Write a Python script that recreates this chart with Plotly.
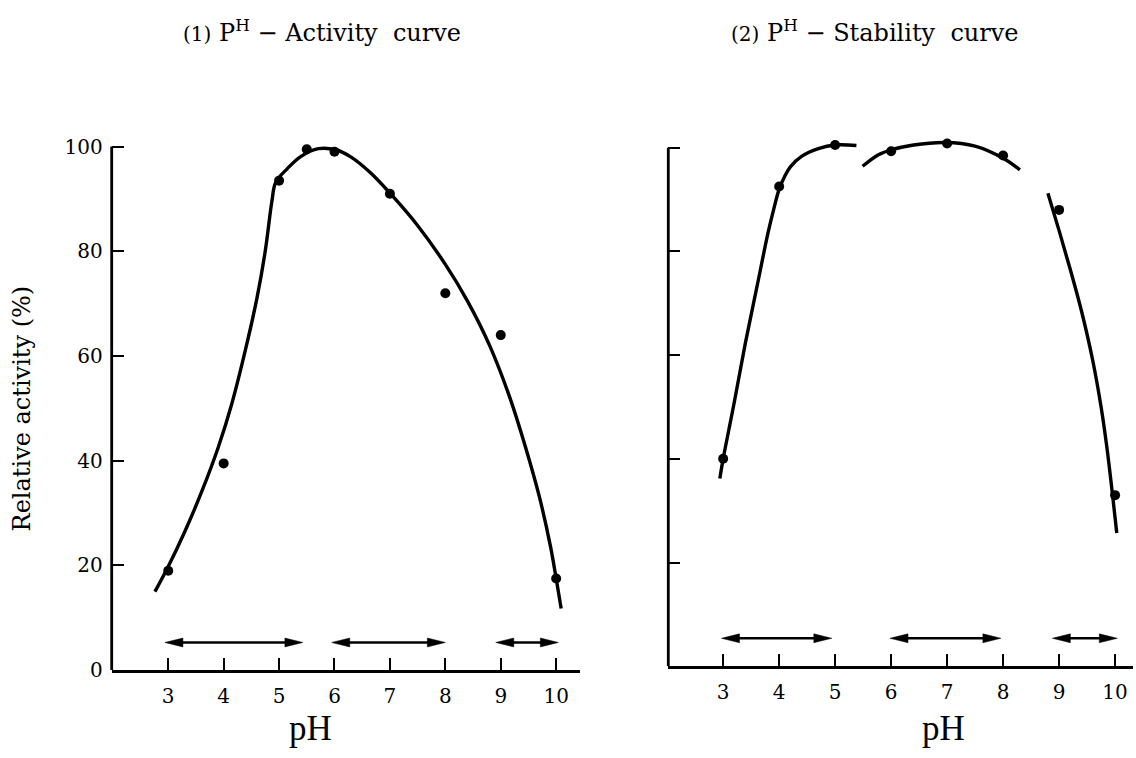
import plotly.graph_objects as go

# ---------------- data ----------------
# (1) pH - Activity curve: measured points
act_ph = [3, 4, 5, 5.5, 6, 7, 8, 9, 10]
act_val = [19, 39.5, 93.5, 99.5, 99, 91, 72, 64, 17.5]
# hand-drawn fitted curve (traced points)
act_curve_ph = [2.76, 3.0, 3.3, 3.6, 3.9, 4.15, 4.4, 4.6, 4.75, 4.87, 4.94, 5.15, 5.39,
                5.71, 6.02, 6.3, 6.65, 7.01, 7.51, 8.0, 8.4, 8.8, 9.15, 9.45, 9.7, 9.9,
                10.0, 10.09]
act_curve_val = [15, 19.8, 26.5, 34, 42.5, 51, 61.5, 71, 80, 89.5, 93.2, 95.8, 98.1,
                 99.6, 99.4, 98, 95, 91, 84.8, 77.5, 70.5, 62, 52.5, 42.5, 33, 23.5,
                 17.5, 11.8]

# (2) pH - Stability curve: measured points
stab_ph = [3, 4, 5, 6, 7, 8, 9, 10]
stab_val = [40, 92.5, 100.5, 99.3, 100.8, 98.5, 88, 33]
# three traced curve segments
stab_seg1_ph = [2.94, 3.0, 3.2, 3.4, 3.6, 3.8, 3.9, 4.0, 4.1, 4.2, 4.4, 4.7, 5.0, 5.38]
stab_seg1_val = [36.2, 40, 51, 62.5, 73, 83.5, 88, 92.0, 94.5, 96.3, 98.3, 99.8, 100.5, 100.4]
stab_seg2_ph = [5.49, 5.75, 5.95, 6.4, 6.96, 7.5, 8.01, 8.3]
stab_seg2_val = [96.4, 98.5, 99.4, 100.5, 101.0, 100.3, 97.9, 95.7]
stab_seg3_ph = [8.8, 9.0, 9.2, 9.4, 9.6, 9.75, 9.85, 9.95, 10.03]
stab_seg3_val = [91.2, 84, 76.5, 68.5, 59, 50, 42.5, 33.5, 25.7]

# double-headed range arrows (start pH, end pH) and their height
act_arrows = [(2.94, 5.43), (5.95, 8.0), (8.91, 10.04)]
act_arrow_y = 5.3
stab_arrows = [(2.97, 4.94), (5.98, 7.96), (8.88, 10.04)]
stab_arrow_y = 5.4

x_ticks = [3, 4, 5, 6, 7, 8, 9, 10]
y_ticks = [0, 20, 40, 60, 80, 100]

titles = ["<span style='font-size:20px'>(1)</span> P<sup>H</sup> − Activity  curve",
          "<span style='font-size:20px'>(2)</span> P<sup>H</sup> − Stability  curve"]
x_title = "pH"
y_title = "Relative activity (%)"

# ---------------- figure ----------------
W, H = 1136, 758
FONT = "DejaVu Serif"
fig = go.Figure()

line_style = dict(color="black", width=3.4, shape="spline", smoothing=1.0)
marker_style = dict(color="black", size=10)

fig.add_trace(go.Scatter(x=act_curve_ph, y=act_curve_val, mode="lines",
                         line=line_style, xaxis="x", yaxis="y", hoverinfo="skip"))
fig.add_trace(go.Scatter(x=act_ph, y=act_val, mode="markers",
                         marker=marker_style, xaxis="x", yaxis="y"))

for sx, sy in [(stab_seg1_ph, stab_seg1_val), (stab_seg2_ph, stab_seg2_val),
               (stab_seg3_ph, stab_seg3_val)]:
    fig.add_trace(go.Scatter(x=sx, y=sy, mode="lines", line=line_style,
                             xaxis="x2", yaxis="y2", hoverinfo="skip"))
fig.add_trace(go.Scatter(x=stab_ph, y=stab_val, mode="markers",
                         marker=marker_style, xaxis="x2", yaxis="y2"))

# double-headed arrows: shaft + two narrow filled heads (head size is a style setting)
HEAD_LEN_PX, HEAD_HALF_PX = 18, 4.5


def add_arrows(arrows, ay, xa, ya, px_per_x, px_per_y):
    hl = HEAD_LEN_PX / px_per_x
    hh = HEAD_HALF_PX / px_per_y
    for a, b in arrows:
        fig.add_trace(go.Scatter(x=[a + hl * 0.8, b - hl * 0.8], y=[ay, ay], mode="lines",
                                 line=dict(color="black", width=2.4),
                                 xaxis=xa, yaxis=ya, hoverinfo="skip"))
        for tip, base in ((a, a + hl), (b, b - hl)):
            fig.add_trace(go.Scatter(x=[tip, base, base, tip], y=[ay, ay + hh, ay - hh, ay],
                                     mode="lines", fill="toself", fillcolor="black",
                                     line=dict(color="black", width=0.5),
                                     xaxis=xa, yaxis=ya, hoverinfo="skip"))


add_arrows(act_arrows, act_arrow_y, "x", "y", 55.4, 5.32)
add_arrows(stab_arrows, stab_arrow_y, "x2", "y2", 56.0, 5.27)

annotations = []
# panel titles
for cx, t in ((322, titles[0]), (875, titles[1])):
    annotations.append(dict(x=cx / W, y=1 - 32 / H, xref="paper", yref="paper",
                            xanchor="center", yanchor="middle",
                            text=t, showarrow=False,
                            font=dict(family=FONT, size=24, color="black")))
# x titles
for cx in (310, 943):
    annotations.append(dict(x=cx / W, y=1 - 740 / H, xref="paper", yref="paper",
                            xanchor="center", yanchor="middle",
                            text=x_title, showarrow=False,
                            font=dict(family="Liberation Serif", size=35, color="black")))
# y title
annotations.append(dict(x=22 / W, y=1 - 415 / H, xref="paper", yref="paper",
                        xanchor="center", yanchor="middle",
                        text=y_title, showarrow=False, textangle=-90,
                        font=dict(family=FONT, size=24, color="black")))

axis_common = dict(showgrid=False, zeroline=False, linecolor="black",
                   linewidth=2.8, ticks="inside", ticklen=12, tickwidth=2,
                   tickcolor="black", tickfont=dict(family=FONT, size=20, color="black"))

# vertical axis lines ending at the 100 tick
shapes = [
    dict(type="line", xref="x domain", yref="y", x0=0, x1=0, y0=0, y1=100,
         line=dict(color="black", width=2.8)),
    dict(type="line", xref="x2 domain", yref="y2", x0=0, x1=0, y0=0, y1=100,
         line=dict(color="black", width=2.8)),
]

fig.update_layout(
    width=W, height=H,
    margin=dict(l=0, r=0, t=0, b=0),
    paper_bgcolor="white", plot_bgcolor="white",
    showlegend=False,
    xaxis=dict(axis_common, showline=True, domain=[111.7 / W, 580 / W], range=[1.98, 10.43],
               tickvals=x_ticks, anchor="y", ticklabelstandoff=6),
    yaxis=dict(axis_common, showline=False, domain=[1 - 681 / H, 1 - 133 / H], range=[0, 103],
               tickvals=y_ticks, anchor="x", ticklabelstandoff=8),
    xaxis2=dict(axis_common, showline=True, domain=[668.3 / W, 1133 / W], range=[2.02, 10.32],
                tickvals=x_ticks, anchor="y2", ticklabelstandoff=6),
    yaxis2=dict(axis_common, showline=False, domain=[1 - 677 / H, 1 - 134.2 / H], range=[0, 103],
                tickvals=y_ticks, anchor="x2", showticklabels=False),
    annotations=annotations,
    shapes=shapes,
)

fig.write_html("out.html")
